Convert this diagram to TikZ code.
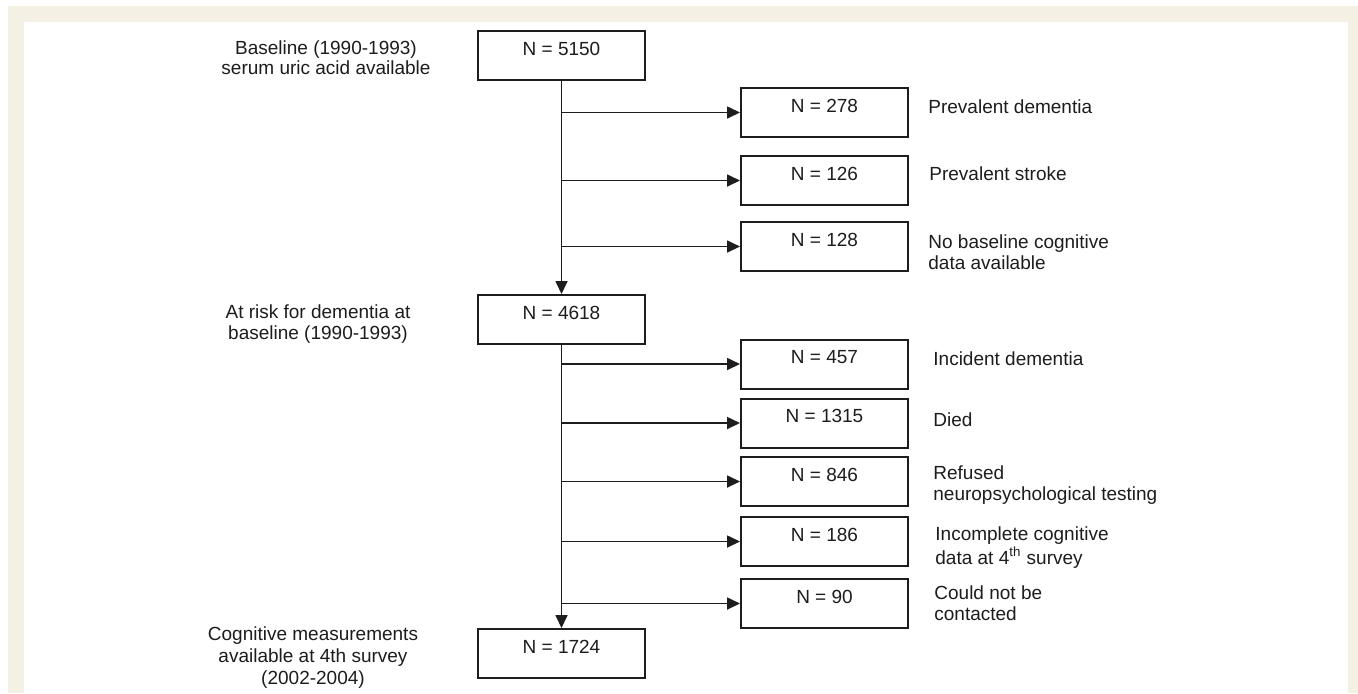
\documentclass[tikz,border=0pt]{standalone}
\usepackage{fontspec}
\setmainfont{Liberation Sans}
\usetikzlibrary{arrows.meta}
\definecolor{ink}{HTML}{1F1C1D}
\definecolor{framebg}{HTML}{F4F0E3}
\begin{document}
\begin{tikzpicture}[x=0.5pt,y=-0.5pt,
  every node/.style={text=ink, font=\fontsize{9.5pt}{10.5pt}\selectfont},
  box/.style={draw=ink, line width=1pt, minimum width=83.5pt, minimum height=24.5pt, inner sep=0pt},
  num/.style={inner sep=0pt},
  lbl/.style={align=left, anchor=base west, inner sep=0pt},
  side/.style={align=center, anchor=base, inner sep=0pt},
  arr/.style={draw=ink, line width=0.85pt, -{Triangle[length=6.5pt,width=6pt]}},
]
\fill[white] (0,0) rectangle (1358,693);
\fill[framebg] (8,6) rectangle (1358,693);
\fill[white] (24,22) rectangle (1348,693);
\useasboundingbox (0,0) rectangle (1358,693);

% main boxes
\node[box] (b0) at (561.5,55.5) {};
\node[box] (b1) at (561.5,319.5) {};
\node[box] (b2) at (561.5,653.5) {};
\node[num] (n0) at ([yshift=-9.25pt]b0.north) {N = 5150};
\node[num] (n1) at ([yshift=-9.25pt]b1.north) {N = 4618};
\node[num] (n2) at ([yshift=-9.25pt]b2.north) {N = 1724};

% right boxes
\foreach \nm/\yy/\val in {r1/112.5/278, r2/180.5/126, r3/246.5/128, r4/364/457, r5/423/1315, r6/481.5/846, r7/541.5/186, r8/603.5/90}{
  \node[box] (\nm) at (824.5,\yy) {};
  \node[num] (t\nm) at ([yshift=-9.25pt]\nm.north) {N = \val};
}

% trunks
\draw[arr] (b0.south) -- (b1.north);
\draw[arr] (b1.south) -- (b2.north);

% branches
\foreach \nm/\src in {r1/b0, r2/b0, r3/b0, r4/b1, r5/b1, r6/b1, r7/b1, r8/b1}{
  \draw[arr] (\src.south |- \nm.west) -- (\nm.west);
}

% right labels (base = baseline of last line)
\node[lbl] (l1) at (928,113.7) {Prevalent dementia};
\node[lbl] (l2) at (929,180) {Prevalent stroke};
\node[lbl] (l3) at (928,269) {No baseline cognitive\\data available};
\node[lbl] (l4) at (933,365) {Incident dementia};
\node[lbl] (l5) at (933,426) {Died};
\node[lbl] (l6) at (933,500) {Refused\\neuropsychological testing};
\node[lbl] (l7) at (935,564) {Incomplete cognitive\\data at 4\textsuperscript{th} survey};
\node[lbl] (l8) at (934,620) {Could not be\\contacted};

% left labels
\node[side, font=\fontsize{9.5pt}{10pt}\selectfont] (s0) at (326,74) {Baseline (1990-1993)\\serum uric acid available};
\node[side] (s1) at (318,339) {At risk for dementia at\\baseline (1990-1993)};
\node[side, font=\fontsize{9.5pt}{11pt}\selectfont] (s2) at (313,684) {Cognitive measurements\\available at 4th survey\\(2002-2004)};
\end{tikzpicture}
\end{document}
